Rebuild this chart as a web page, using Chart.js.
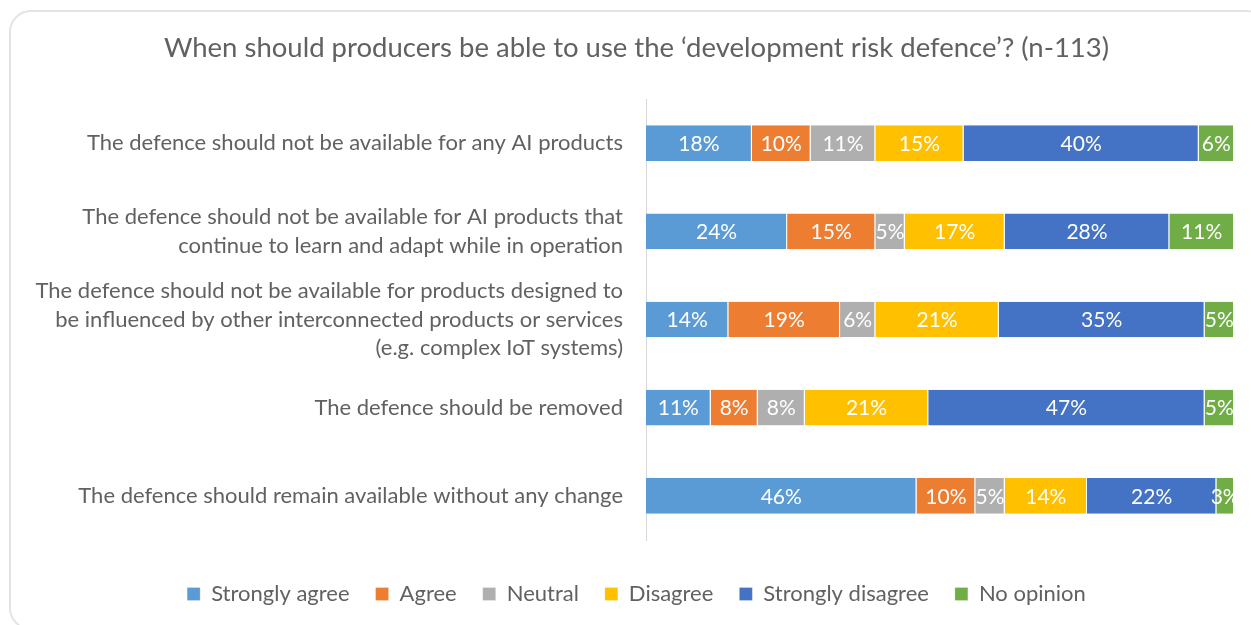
<!DOCTYPE html>
<html>
<head>
<meta charset="utf-8">
<script src="https://cdn.jsdelivr.net/npm/chart.js@4.4.1/dist/chart.umd.min.js"></script>
<style>
  html, body { margin: 0; padding: 0; background: #fff; overflow: hidden; }
  #card {
    position: absolute; left: 9px; top: 10px; width: 1260px; height: 620px;
    border: 2px solid #e3e3e3; border-radius: 22px; box-sizing: border-box;
  }
  #wrap { position: absolute; left: 0; top: 0; width: 1251px; height: 625px; }
</style>
</head>
<body>
<div id="card"></div>
<div id="wrap"><canvas id="chart"></canvas></div>
<script>
const categories = [
  "The defence should not be available for any AI products",
  ["The defence should not be available for AI products that", "continue to learn and adapt while in operation"],
  ["The defence should not be available for products designed to", "be influenced by other interconnected products or services", "(e.g. complex IoT systems)"],
  "The defence should be removed",
  "The defence should remain available without any change"
];

const stronglyAgree    = [18, 24, 14, 11, 46];
const agree            = [10, 15, 19, 8, 10];
const neutral          = [11, 5, 6, 8, 5];
const disagree         = [15, 17, 21, 21, 14];
const stronglyDisagree = [40, 28, 35, 47, 22];
const noOpinion        = [6, 11, 5, 5, 3];

const FONT = "Lato, 'Open Sans', sans-serif";
const GREY = "#616161";

// white % labels centred in each segment
const valueLabels = {
  id: "valueLabels",
  afterDatasetsDraw(chart) {
    const ctx = chart.ctx;
    ctx.save();
    ctx.font = "21px " + FONT;
    ctx.fillStyle = "#ffffff";
    ctx.textAlign = "center";
    ctx.textBaseline = "middle";
    chart.data.datasets.forEach((ds, i) => {
      chart.getDatasetMeta(i).data.forEach((bar, j) => {
        const cx = (bar.x + bar.base) / 2;
        ctx.fillText(ds.data[j] + "%", cx, bar.y + 1);
      });
    });
    ctx.restore();
  }
};

function series(label, data, color) {
  return { label, data, backgroundColor: color, borderColor: "#ffffff", borderWidth: { left: 0, right: 1, top: 0, bottom: 0 }, borderSkipped: false,
    barPercentage: 0.405, categoryPercentage: 1 };
}

new Chart(document.getElementById("chart"), {
  type: "bar",
  data: {
    labels: categories,
    datasets: [
      series("Strongly agree", stronglyAgree, "#5B9BD5"),
      series("Agree", agree, "#ED7D31"),
      series("Neutral", neutral, "#AFAFAF"),
      series("Disagree", disagree, "#FFC000"),
      series("Strongly disagree", stronglyDisagree, "#4472C4"),
      series("No opinion", noOpinion, "#70AD47")
    ]
  },
  options: {
    indexAxis: "y",
    responsive: true,
    maintainAspectRatio: false,
    animation: false,
    layout: { padding: { left: 22, right: 0, top: 10, bottom: 10 } },
    scales: {
      x: {
        stacked: true, min: 0, max: 100,
        grid: { display: false }, border: { display: false }, ticks: { display: false },
        afterFit(scale) { scale.height = 17; }
      },
      y: {
        stacked: true,
        grid: { display: false },
        border: { display: true, color: "#d9d9d9", width: 1 },
        ticks: { color: GREY, font: { family: FONT, size: 22, lineHeight: 1.3 }, padding: 15, crossAlign: "near", autoSkip: false },
        afterFit(scale) { scale.width = 624; }
      },
      // empty spacer on the right so the title/legend centre on the card
      yr: {
        type: "category", position: "right",
        grid: { display: false }, border: { display: false }, ticks: { display: false },
        afterFit(scale) { scale.width = 17; }
      }
    },
    plugins: {
      title: {
        display: true,
        text: "When should producers be able to use the \u2018development risk defence\u2019? (n-113)",
        color: GREY,
        font: { family: FONT, size: 27.5, weight: "normal" },
        padding: { top: 22, bottom: 34 }
      },
      legend: {
        position: "bottom",
        labels: { color: GREY, font: { family: FONT, size: 22 }, boxWidth: 13, boxHeight: 13, padding: 26 }
      },
      tooltip: { enabled: false }
    }
  },
  plugins: [valueLabels]
});
</script>
</body>
</html>
